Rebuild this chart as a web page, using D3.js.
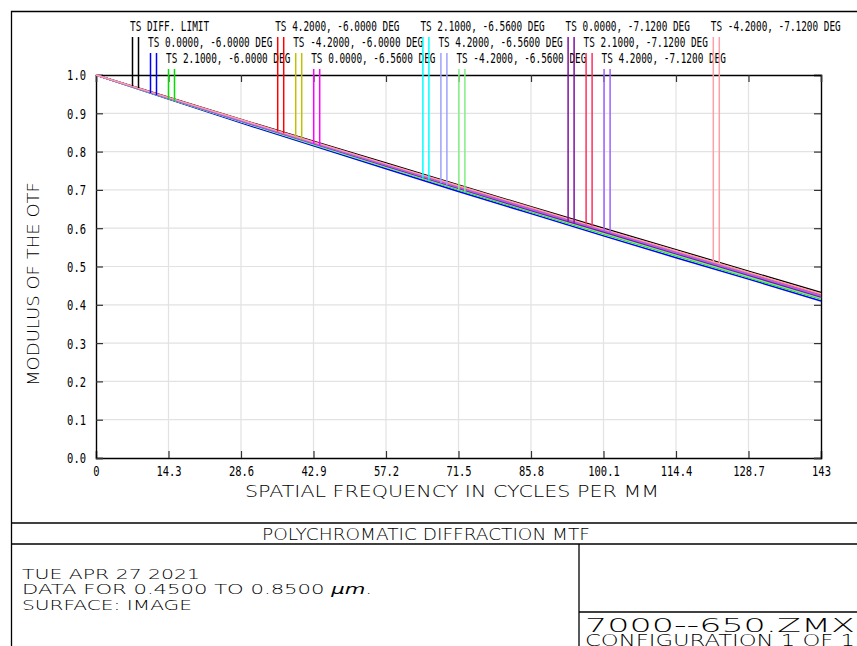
<!DOCTYPE html>
<html>
<head>
<meta charset="utf-8">
<script src="https://cdn.jsdelivr.net/npm/d3@7"></script>
<style>
  body { margin: 0; background: #fff; }
  svg { display: block; }
  .narrow { font-family: "DejaVu Sans Mono", monospace; font-size: 14px; }
  .wide { font-family: "DejaVu Sans", sans-serif; font-weight: 200; }
</style>
</head>
<body>
<div id="chart"></div>
<script>
// spatial frequency samples (cycles/mm)
const freqs = [0, 14.3, 28.6, 42.9, 57.2, 71.5, 85.8, 100.1, 114.4, 128.7, 143];
const xTickLabels = ["0", "14.3", "28.6", "42.9", "57.2", "71.5", "85.8", "100.1", "114.4", "128.7", "143"];
const yTicks = [0, 0.1, 0.2, 0.3, 0.4, 0.5, 0.6, 0.7, 0.8, 0.9, 1.0];

// MTF values
const diffLimit = [1.000, 0.942, 0.884, 0.827, 0.770, 0.713, 0.656, 0.600, 0.544, 0.488, 0.432];
const ts00_600 = [1.000, 0.937, 0.875, 0.815, 0.755, 0.696, 0.638, 0.580, 0.523, 0.467, 0.410];
const ts21_600 = [1.000, 0.938, 0.878, 0.818, 0.759, 0.700, 0.642, 0.585, 0.528, 0.471, 0.415];
const ts42_600 = [1.000, 0.941, 0.882, 0.824, 0.766, 0.709, 0.651, 0.595, 0.539, 0.482, 0.426];
const tsm42_600 = [1.000, 0.941, 0.882, 0.823, 0.766, 0.708, 0.651, 0.594, 0.538, 0.482, 0.425];
const ts00_656 = [1.000, 0.939, 0.880, 0.821, 0.763, 0.705, 0.647, 0.591, 0.534, 0.478, 0.421];
const ts21_656 = [1.000, 0.939, 0.879, 0.820, 0.761, 0.703, 0.645, 0.589, 0.532, 0.475, 0.419];
const ts42_656 = [1.000, 0.939, 0.879, 0.819, 0.761, 0.703, 0.645, 0.588, 0.531, 0.474, 0.418];
const tsm42_656 = [1.000, 0.939, 0.878, 0.819, 0.760, 0.702, 0.644, 0.587, 0.530, 0.473, 0.417];
const ts00_712 = [1.000, 0.940, 0.880, 0.821, 0.762, 0.704, 0.646, 0.590, 0.533, 0.477, 0.420];
const ts21_712 = [1.000, 0.941, 0.883, 0.825, 0.767, 0.710, 0.652, 0.596, 0.540, 0.484, 0.427];
const ts42_712 = [1.000, 0.940, 0.880, 0.822, 0.764, 0.706, 0.649, 0.593, 0.536, 0.480, 0.423];
const tsm42_712 = [1.000, 0.941, 0.883, 0.825, 0.768, 0.711, 0.654, 0.597, 0.541, 0.485, 0.429];

const seriesLabels = [
    "TS DIFF. LIMIT",
    "TS 0.0000, -6.0000 DEG", "TS 2.1000, -6.0000 DEG", "TS 4.2000, -6.0000 DEG", "TS -4.2000, -6.0000 DEG",
    "TS 0.0000, -6.5600 DEG", "TS 2.1000, -6.5600 DEG", "TS 4.2000, -6.5600 DEG", "TS -4.2000, -6.5600 DEG",
    "TS 0.0000, -7.1200 DEG", "TS 2.1000, -7.1200 DEG", "TS 4.2000, -7.1200 DEG", "TS -4.2000, -7.1200 DEG"
];
const seriesColors = [
    "#000000",
    "#0000ff", "#00e000", "#ff0000", "#c0c000",
    "#ff00ff", "#00ffff", "#a0a0ff", "#80f080",
    "#8010a0", "#ff3060", "#a060ff", "#ffa0a8"
];
const seriesValues = [diffLimit, ts00_600, ts21_600, ts42_600, tsm42_600,
    ts00_656, ts21_656, ts42_656, tsm42_656, ts00_712, ts21_712, ts42_712, tsm42_712];

const series = seriesLabels.map(function (l, i) {
    return {label: l, color: seriesColors[i], values: seriesValues[i]};
});

const W = 857, H = 646;
const margin = {top: 75, left: 96};
const width = 725, height = 383;

const svg = d3.select("#chart").append("svg")
    .attr("width", W)
    .attr("height", H);

// outer frame and title block
const frame = svg.append("g").attr("stroke", "#000").attr("stroke-width", 1.3).attr("fill", "none");
frame.append("path").attr("d", "M11.5,646 V11.5 H857");
frame.append("line").attr("x1", 11).attr("x2", 857).attr("y1", 523).attr("y2", 523);
frame.append("line").attr("x1", 11).attr("x2", 857).attr("y1", 544).attr("y2", 544);
frame.append("line").attr("x1", 579).attr("x2", 579).attr("y1", 544).attr("y2", 646);
frame.append("line").attr("x1", 579).attr("x2", 857).attr("y1", 612).attr("y2", 612);

const g = svg.append("g")
    .attr("transform", "translate(" + margin.left + "," + margin.top + ")");

const x = d3.scaleLinear().domain([0, 143]).range([0, width]);
const y = d3.scaleLinear().domain([0, 1]).range([height, 0]);

function narrow(sel, perChar) {
    sel.attr("class", "narrow")
        .attr("textLength", function () { return this.textContent.length * perChar; })
        .attr("lengthAdjust", "spacingAndGlyphs");
}

// grid
g.append("g").selectAll("line").data(freqs.slice(1, -1)).join("line")
    .attr("x1", d => x(d)).attr("x2", d => x(d))
    .attr("y1", 0).attr("y2", height)
    .attr("stroke", "#e2e2e2").attr("stroke-width", 1.2);
g.append("g").selectAll("line").data(yTicks.slice(1, -1)).join("line")
    .attr("y1", d => y(d)).attr("y2", d => y(d))
    .attr("x1", 0).attr("x2", width)
    .attr("stroke", "#e2e2e2").attr("stroke-width", 1.2);

// axes with inward ticks
const xAxis = g.append("g")
    .attr("transform", "translate(0," + height + ")")
    .call(d3.axisBottom(x).tickValues(freqs).tickFormat((d, i) => xTickLabels[i]).tickSize(-7).tickPadding(14));
const yAxis = g.append("g")
    .call(d3.axisLeft(y).tickValues(yTicks).tickFormat(d3.format(".1f")).tickSize(-7).tickPadding(10));
g.append("g").attr("transform", "translate(" + width + ",0)")
    .call(d3.axisRight(y).tickValues(yTicks).tickFormat("").tickSize(-7));
g.append("g")
    .call(d3.axisTop(x).tickValues(freqs).tickFormat("").tickSize(-7));

g.selectAll(".domain").attr("stroke", "#000").attr("stroke-width", 1.4);
g.selectAll(".tick line").attr("stroke", "#333").attr("stroke-width", 1.2);
xAxis.selectAll("text").attr("fill", "#000").call(narrow, 6.3).attr("dy", "0.3em");
yAxis.selectAll("text").attr("fill", "#000").call(narrow, 6.3).attr("dy", "0.35em");

// curves
const line = d3.line()
    .x((d, i) => x(freqs[i]))
    .y(d => y(d));

g.append("g").selectAll("path").data(series).join("path")
    .attr("d", d => line(d.values))
    .attr("fill", "none")
    .attr("stroke", d => d.color)
    .attr("stroke-width", 1.5);

// legend labels with marker pairs dropping to the curve
const rowBase = [31, 47, 63];
series.forEach(function (s, i) {
    const r = i % 3, c = Math.floor(i / 3);
    const lx = 130 + 145.2 * c + 18 * r;
    svg.append("text")
        .attr("x", lx).attr("y", rowBase[r])
        .attr("fill", "#000")
        .text(s.label)
        .call(narrow, 5.65);
    const interp = d3.scaleLinear().domain(freqs).range(s.values);
    [2.5, 8.5].forEach(function (off) {
        const px = lx + off;
        const yv = y(interp(x.invert(px - margin.left))) + margin.top;
        svg.append("line")
            .attr("x1", px).attr("x2", px)
            .attr("y1", rowBase[r] + 6).attr("y2", yv)
            .attr("stroke", s.color).attr("stroke-width", 1.5);
    });
});

// axis titles
svg.append("text")
    .attr("class", "wide")
    .attr("x", 245).attr("y", 497)
    .attr("font-size", 16)
    .attr("textLength", 414).attr("lengthAdjust", "spacingAndGlyphs")
    .text("SPATIAL FREQUENCY IN CYCLES PER MM");

svg.append("text")
    .attr("class", "wide")
    .attr("transform", "translate(39,386) rotate(-90)")
    .attr("font-size", 16)
    .attr("textLength", 204).attr("lengthAdjust", "spacingAndGlyphs")
    .text("MODULUS OF THE OTF");

svg.append("text")
    .attr("class", "wide")
    .attr("x", 262).attr("y", 540)
    .attr("font-size", 15)
    .attr("textLength", 328).attr("lengthAdjust", "spacingAndGlyphs")
    .text("POLYCHROMATIC DIFFRACTION MTF");

// info block
const info = svg.append("g").attr("class", "wide").attr("font-size", 14);
info.append("text").attr("x", 22).attr("y", 579)
    .attr("textLength", 178).attr("lengthAdjust", "spacingAndGlyphs")
    .text("TUE APR 27 2021");
const dataLine = info.append("text").attr("x", 22).attr("y", 594);
dataLine.append("tspan").text("DATA FOR 0.4500 TO 0.8500 ");
dataLine.append("tspan").attr("font-style", "italic").text("\u00b5m");
dataLine.append("tspan").text(".");
dataLine.attr("textLength", 350).attr("lengthAdjust", "spacingAndGlyphs");
info.append("text").attr("x", 22).attr("y", 610)
    .attr("textLength", 170).attr("lengthAdjust", "spacingAndGlyphs")
    .text("SURFACE: IMAGE");

svg.append("text").attr("class", "wide")
    .attr("x", 585).attr("y", 632)
    .attr("font-size", 20)
    .attr("textLength", 270).attr("lengthAdjust", "spacingAndGlyphs")
    .text("7000--650.ZMX");
svg.append("text").attr("class", "wide")
    .attr("x", 585).attr("y", 646)
    .attr("font-size", 16)
    .attr("textLength", 270).attr("lengthAdjust", "spacingAndGlyphs")
    .text("CONFIGURATION 1 OF 1");
</script>
</body>
</html>
